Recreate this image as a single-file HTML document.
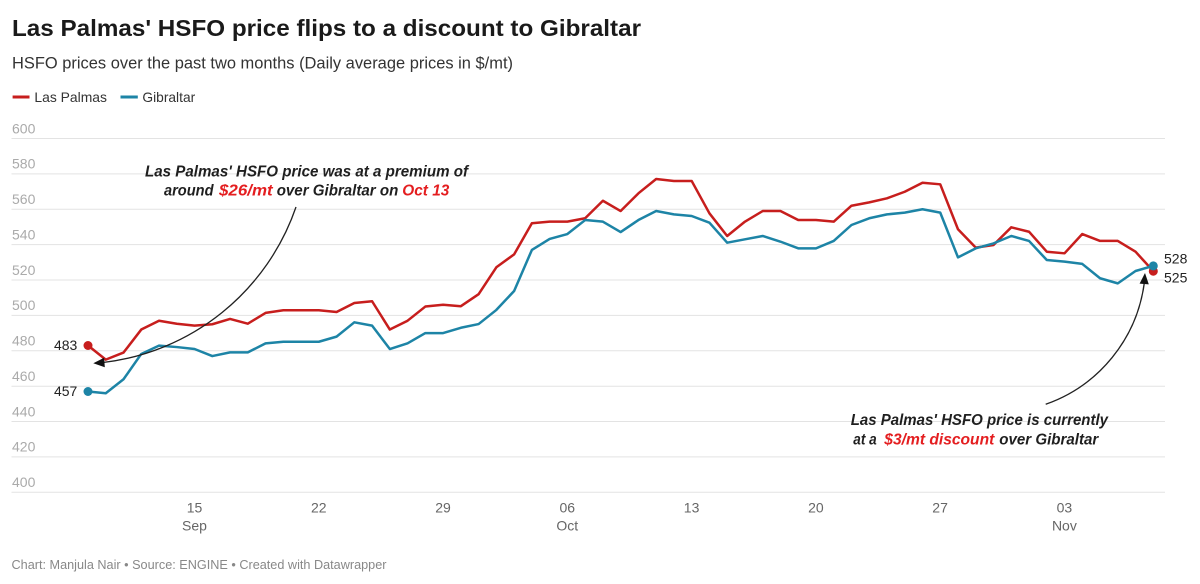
<!DOCTYPE html>
<html>
<head>
<meta charset="utf-8">
<style>
  html,body{margin:0;padding:0;background:#fff;}
  svg{display:block;}
  text{font-family:"Liberation Sans",Arial,sans-serif;}
</style>
</head>
<body>
<svg width="1200" height="584" viewBox="0 0 1200 584" xmlns="http://www.w3.org/2000/svg">
  <rect width="1200" height="584" fill="#ffffff"/>

  <!-- Title / subtitle -->
  <text x="12" y="36" font-size="23" font-weight="bold" fill="#1a1a1a" textLength="629" lengthAdjust="spacingAndGlyphs">Las Palmas' HSFO price flips to a discount to Gibraltar</text>
  <text x="12" y="68.5" font-size="16.5" fill="#333" textLength="501" lengthAdjust="spacingAndGlyphs">HSFO prices over the past two months (Daily average prices in $/mt)</text>

  <!-- Legend -->
  <line x1="12.6" y1="97" x2="29.5" y2="97" stroke="#c71e1d" stroke-width="3"/>
  <text x="34.4" y="102" font-size="14" fill="#333" textLength="72.6" lengthAdjust="spacingAndGlyphs">Las Palmas</text>
  <line x1="120.5" y1="97" x2="137.8" y2="97" stroke="#1d84a6" stroke-width="3"/>
  <text x="142.4" y="102" font-size="14" fill="#333" textLength="52.8" lengthAdjust="spacingAndGlyphs">Gibraltar</text>

  <!-- Grid -->
  <g stroke="#e3e3e3" stroke-width="1">
    <line x1="11.5" y1="138.5" x2="1165" y2="138.5"/>
    <line x1="11.5" y1="173.9" x2="1165" y2="173.9"/>
    <line x1="11.5" y1="209.3" x2="1165" y2="209.3"/>
    <line x1="11.5" y1="244.6" x2="1165" y2="244.6"/>
    <line x1="11.5" y1="280.0" x2="1165" y2="280.0"/>
    <line x1="11.5" y1="315.4" x2="1165" y2="315.4"/>
    <line x1="11.5" y1="350.8" x2="1165" y2="350.8"/>
    <line x1="11.5" y1="386.2" x2="1165" y2="386.2"/>
    <line x1="11.5" y1="421.5" x2="1165" y2="421.5"/>
    <line x1="11.5" y1="456.9" x2="1165" y2="456.9"/>
    <line x1="11.5" y1="492.3" x2="1165" y2="492.3"/>
  </g>
  <g font-size="14" fill="#aaaaaa">
    <text x="12" y="133.3">600</text>
    <text x="12" y="168.7">580</text>
    <text x="12" y="204.1">560</text>
    <text x="12" y="239.4">540</text>
    <text x="12" y="274.8">520</text>
    <text x="12" y="310.2">500</text>
    <text x="12" y="345.6">480</text>
    <text x="12" y="381.0">460</text>
    <text x="12" y="416.3">440</text>
    <text x="12" y="451.7">420</text>
    <text x="12" y="487.1">400</text>
  </g>

  <!-- X axis labels -->
  <g font-size="14" fill="#666" text-anchor="middle">
    <text x="194.5" y="512.5">15</text>
    <text x="194.5" y="530.5">Sep</text>
    <text x="318.8" y="512.5">22</text>
    <text x="443" y="512.5">29</text>
    <text x="567.3" y="512.5">06</text>
    <text x="567.3" y="530.5">Oct</text>
    <text x="691.6" y="512.5">13</text>
    <text x="815.9" y="512.5">20</text>
    <text x="940.1" y="512.5">27</text>
    <text x="1064.4" y="512.5">03</text>
    <text x="1064.4" y="530.5">Nov</text>
  </g>

  <!-- Series -->
  <g transform="matrix(17.755 0 0 -1.769 88 1199.9)" fill="none" stroke-linejoin="round" stroke-linecap="round">
    <polyline vector-effect="non-scaling-stroke" stroke="#c71e1d" stroke-width="2.5"
      points="0,483 1,475 2,479 3,492 4,497 5,495.3 6,494.2 7,495 8,498 9,495.3 10,501.4 11,502.9 12,502.9 13,502.9 14,501.9 15,507 16,508 17,492 18,497 19,505 20,506 21,505.2 22,512 23,527.2 24,534.5 25,552.1 26,553 27,553 28,554.9 29,564.8 30,559 31,569 32,577.1 33,576 34,576 35,557.7 36,544.9 37,553 38,559 39,559 40,553.9 41,553.9 42,553 43,562 44,563.9 45,566.2 46,569.9 47,575 48,574.1 49,548.7 50,538.3 51,539.8 52,549.8 53,547.3 54,536 55,535.1 56,546 57,542.1 58,542.1 59,536 60,525"/>
    <polyline vector-effect="non-scaling-stroke" stroke="#1d84a6" stroke-width="2.5"
      points="0,457 1,456 2,463.9 3,478.2 4,482.9 5,482.1 6,481 7,477 8,479.1 9,479.1 10,484.2 11,485.1 12,485.1 13,485.1 14,488 15,496.1 16,494.2 17,481 18,484.2 19,490 20,490 21,493 22,495.1 23,503.1 24,513.8 25,537 26,543.2 27,546 28,553.9 29,553 30,547.1 31,553.9 32,559 33,557.1 34,556.2 35,552.4 36,541.1 37,543 38,544.9 39,541.7 40,537.9 41,537.9 42,542.1 43,551.1 44,554.9 45,557.1 46,558.1 47,560 48,558.1 49,532.8 50,537.9 51,540.7 52,544.9 53,542.1 54,531.3 55,530.4 56,529.1 57,521 58,518.1 59,525.1 60,528"/>
  </g>

  <!-- End dots -->
  <circle cx="88" cy="345.5" r="4.5" fill="#c71e1d"/>
  <circle cx="88" cy="391.5" r="4.5" fill="#1d84a6"/>
  <circle cx="1153.3" cy="271.2" r="4.5" fill="#c71e1d"/>
  <circle cx="1153.3" cy="265.9" r="4.5" fill="#1d84a6"/>

  <!-- End labels -->
  <g font-size="14" fill="#222">
    <text x="77.3" y="350" text-anchor="end">483</text>
    <text x="77.3" y="396" text-anchor="end">457</text>
    <text x="1164" y="263.3">528</text>
    <text x="1164" y="282.3">525</text>
  </g>

  <!-- Top annotation -->
  <g font-size="16" font-weight="bold" font-style="italic" fill="#1f1f1f">
    <text x="145" y="176.7" textLength="323" lengthAdjust="spacingAndGlyphs">Las Palmas' HSFO price was at a premium of</text>
    <text x="164" y="195.7" textLength="49.5" lengthAdjust="spacingAndGlyphs">around</text>
    <text x="219" y="195.7" textLength="53.7" lengthAdjust="spacingAndGlyphs" fill="#e41e20">$26/mt</text>
    <text x="276.7" y="195.7" textLength="121.6" lengthAdjust="spacingAndGlyphs">over Gibraltar on</text>
    <text x="402.3" y="195.7" textLength="47" lengthAdjust="spacingAndGlyphs" fill="#e41e20">Oct 13</text>
  </g>
  <path d="M296,207 A232.5,232.5 0 0 1 103,362.5" fill="none" stroke="#222" stroke-width="1.3"/>
  <polygon points="93.3,363.3 104.8,367.2 104.1,357.8" fill="#111"/>

  <!-- Bottom annotation -->
  <g font-size="16" font-weight="bold" font-style="italic" fill="#1f1f1f">
    <text x="850.7" y="425" textLength="257.3" lengthAdjust="spacingAndGlyphs">Las Palmas' HSFO price is currently</text>
    <text x="853.3" y="444.3" textLength="23.4" lengthAdjust="spacingAndGlyphs">at a</text>
    <text x="884.3" y="444.3" textLength="110" lengthAdjust="spacingAndGlyphs" fill="#e41e20">$3/mt discount</text>
    <text x="999.3" y="444.3" textLength="99" lengthAdjust="spacingAndGlyphs">over Gibraltar</text>
  </g>
  <path d="M1045.7,404.3 A149.5,149.5 0 0 0 1144.3,283" fill="none" stroke="#222" stroke-width="1.3"/>
  <polygon points="1145,273 1148.8,284.4 1139.6,283.6" fill="#111"/>

  <!-- Footer -->
  <text x="11.5" y="569" font-size="13" fill="#888" textLength="375" lengthAdjust="spacingAndGlyphs">Chart: Manjula Nair • Source: ENGINE • Created with Datawrapper</text>
</svg>
</body>
</html>
